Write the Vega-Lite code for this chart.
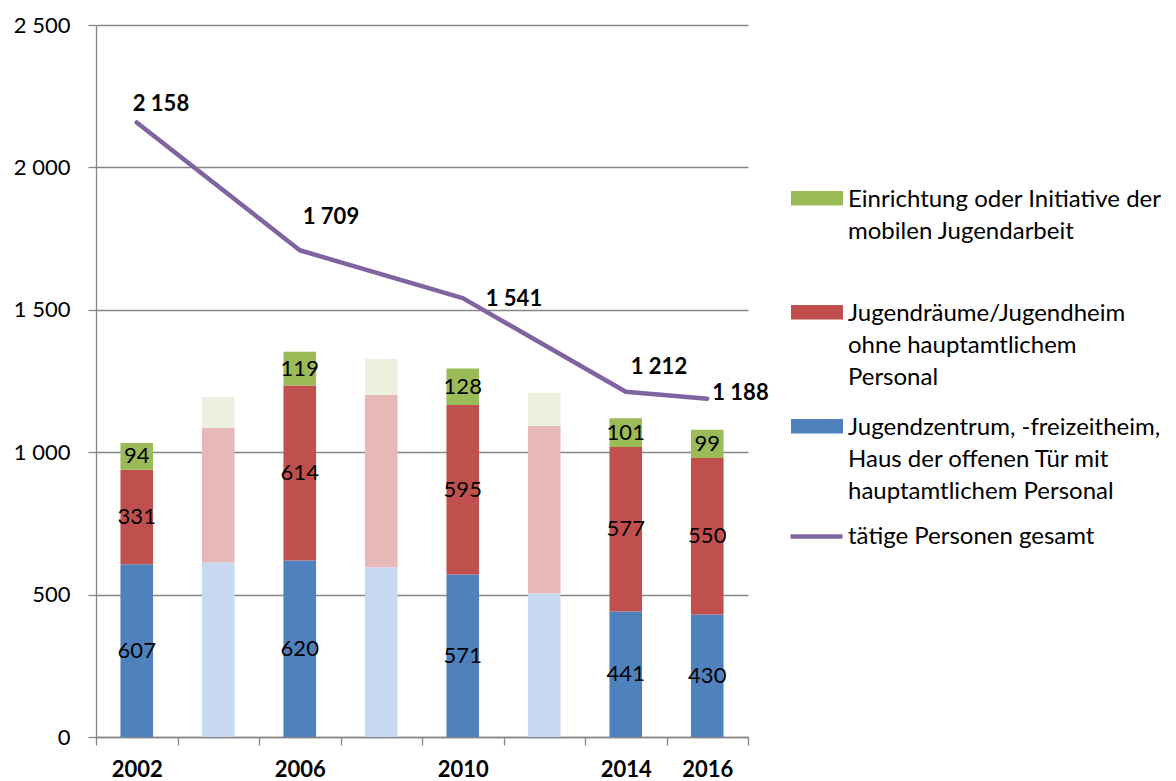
{
  "$schema": "https://vega.github.io/schema/vega-lite/v6.json",
  "width": 652,
  "height": 712,
  "autosize": {"type": "none"},
  "padding": {"left": 96, "top": 25, "right": 428, "bottom": 44},
  "config": {
    "locale": {"number": {"decimal": ",", "thousands": " ", "grouping": [3], "currency": ["", " €"]}},
    "font": "Lato",
    "view": {"stroke": null},
    "style": {"guide-label": {"lineHeight": 32}}
  },
  "datasets": {
    "balken": [
      {"jahr": 2002, "reihe": "Jugendzentrum, -freizeitheim, Haus der offenen Tür mit hauptamtlichem Personal", "wert": 607, "geschaetzt": false},
      {"jahr": 2002, "reihe": "Jugendräume/Jugendheim ohne hauptamtlichem Personal", "wert": 331, "geschaetzt": false},
      {"jahr": 2002, "reihe": "Einrichtung oder Initiative der mobilen Jugendarbeit", "wert": 94, "geschaetzt": false},
      {"jahr": 2004, "reihe": "Jugendzentrum, -freizeitheim, Haus der offenen Tür mit hauptamtlichem Personal", "wert": 614, "geschaetzt": true},
      {"jahr": 2004, "reihe": "Jugendräume/Jugendheim ohne hauptamtlichem Personal", "wert": 471, "geschaetzt": true},
      {"jahr": 2004, "reihe": "Einrichtung oder Initiative der mobilen Jugendarbeit", "wert": 109, "geschaetzt": true},
      {"jahr": 2006, "reihe": "Jugendzentrum, -freizeitheim, Haus der offenen Tür mit hauptamtlichem Personal", "wert": 620, "geschaetzt": false},
      {"jahr": 2006, "reihe": "Jugendräume/Jugendheim ohne hauptamtlichem Personal", "wert": 614, "geschaetzt": false},
      {"jahr": 2006, "reihe": "Einrichtung oder Initiative der mobilen Jugendarbeit", "wert": 119, "geschaetzt": false},
      {"jahr": 2008, "reihe": "Jugendzentrum, -freizeitheim, Haus der offenen Tür mit hauptamtlichem Personal", "wert": 596, "geschaetzt": true},
      {"jahr": 2008, "reihe": "Jugendräume/Jugendheim ohne hauptamtlichem Personal", "wert": 605, "geschaetzt": true},
      {"jahr": 2008, "reihe": "Einrichtung oder Initiative der mobilen Jugendarbeit", "wert": 126, "geschaetzt": true},
      {"jahr": 2010, "reihe": "Jugendzentrum, -freizeitheim, Haus der offenen Tür mit hauptamtlichem Personal", "wert": 571, "geschaetzt": false},
      {"jahr": 2010, "reihe": "Jugendräume/Jugendheim ohne hauptamtlichem Personal", "wert": 595, "geschaetzt": false},
      {"jahr": 2010, "reihe": "Einrichtung oder Initiative der mobilen Jugendarbeit", "wert": 128, "geschaetzt": false},
      {"jahr": 2012, "reihe": "Jugendzentrum, -freizeitheim, Haus der offenen Tür mit hauptamtlichem Personal", "wert": 505, "geschaetzt": true},
      {"jahr": 2012, "reihe": "Jugendräume/Jugendheim ohne hauptamtlichem Personal", "wert": 587, "geschaetzt": true},
      {"jahr": 2012, "reihe": "Einrichtung oder Initiative der mobilen Jugendarbeit", "wert": 117, "geschaetzt": true},
      {"jahr": 2014, "reihe": "Jugendzentrum, -freizeitheim, Haus der offenen Tür mit hauptamtlichem Personal", "wert": 441, "geschaetzt": false},
      {"jahr": 2014, "reihe": "Jugendräume/Jugendheim ohne hauptamtlichem Personal", "wert": 577, "geschaetzt": false},
      {"jahr": 2014, "reihe": "Einrichtung oder Initiative der mobilen Jugendarbeit", "wert": 101, "geschaetzt": false},
      {"jahr": 2016, "reihe": "Jugendzentrum, -freizeitheim, Haus der offenen Tür mit hauptamtlichem Personal", "wert": 430, "geschaetzt": false},
      {"jahr": 2016, "reihe": "Jugendräume/Jugendheim ohne hauptamtlichem Personal", "wert": 550, "geschaetzt": false},
      {"jahr": 2016, "reihe": "Einrichtung oder Initiative der mobilen Jugendarbeit", "wert": 99, "geschaetzt": false}
    ],
    "gesamt": [
      {"jahr": 2002, "reihe": "tätige Personen gesamt", "wert": 2158},
      {"jahr": 2006, "reihe": "tätige Personen gesamt", "wert": 1709},
      {"jahr": 2010, "reihe": "tätige Personen gesamt", "wert": 1541},
      {"jahr": 2014, "reihe": "tätige Personen gesamt", "wert": 1212},
      {"jahr": 2016, "reihe": "tätige Personen gesamt", "wert": 1188}
    ]
  },
  "layer": [
    {
      "data": {"name": "balken"},
      "transform": [{"filter": "!datum.geschaetzt"}],
      "mark": {"type": "bar", "width": {"band": 0.4}},
      "encoding": {
        "x": {
          "field": "jahr", "type": "ordinal", "title": null,
          "scale": {"paddingInner": 0, "paddingOuter": 0},
          "axis": {
            "labelAngle": 0, "labelFontSize": 22, "labelFontWeight": "bold", "labelColor": "#000000",
            "labelExpr": "(datum.value == 2004 || datum.value == 2008 || datum.value == 2012) ? '' : datum.label",
            "tickBand": "extent", "tickSize": 8, "tickColor": "#868686", "tickWidth": 1.3,
            "domainColor": "#868686", "domainWidth": 1.3, "labelPadding": 14, "grid": false
          }
        },
        "y": {
          "field": "wert", "type": "quantitative", "stack": "zero", "title": null,
          "scale": {"domain": [0, 2500], "nice": false},
          "axis": {
            "values": [0, 500, 1000, 1500, 2000, 2500], "format": ",d",
            "labelFontSize": 22, "labelColor": "#000000", "labelPadding": 18,
            "tickSize": 8, "tickColor": "#868686", "tickWidth": 1.3,
            "domainColor": "#868686", "domainWidth": 1.3,
            "grid": true, "gridColor": "#868686", "gridWidth": 1.3
          }
        },
        "color": {
          "field": "reihe", "type": "nominal",
          "scale": {
            "domain": ["Einrichtung oder Initiative der mobilen Jugendarbeit", "Jugendräume/Jugendheim ohne hauptamtlichem Personal", "Jugendzentrum, -freizeitheim, Haus der offenen Tür mit hauptamtlichem Personal"],
            "range": ["#9BBB59", "#C0504D", "#4F81BD"]
          },
          "legend": {
            "title": null, "orient": "none", "legendX": 695, "legendY": 137, "direction": "vertical",
            "padding": 0,
            "symbolType": "M-1,0.116L1,0.116L1,0.676L-1,0.676Z", "symbolSize": 2704, "symbolStrokeWidth": 0,
            "labelFontSize": 24, "labelColor": "#000000", "labelBaseline": "top", "labelOffset": 5, "labelLimit": 500,
            "gridAlign": "all", "rowPadding": -4.5,
            "labelExpr": "datum.label == 'Einrichtung oder Initiative der mobilen Jugendarbeit' ? ['Einrichtung oder Initiative der', 'mobilen Jugendarbeit'] : datum.label == 'Jugendräume/Jugendheim ohne hauptamtlichem Personal' ? ['Jugendräume/Jugendheim', 'ohne hauptamtlichem', 'Personal'] : ['Jugendzentrum, -freizeitheim,', 'Haus der offenen Tür mit', 'hauptamtlichem Personal']"
          }
        },
        "order": {"field": "reihe", "sort": "descending"}
      }
    },
    {
      "data": {"name": "balken"},
      "transform": [{"filter": "datum.geschaetzt"}],
      "mark": {"type": "bar", "width": {"band": 0.4}},
      "encoding": {
        "x": {"field": "jahr", "type": "ordinal", "title": null},
        "y": {"field": "wert", "type": "quantitative", "stack": "zero", "title": null},
        "color": {
          "field": "reihe", "type": "nominal",
          "scale": {
            "domain": ["Einrichtung oder Initiative der mobilen Jugendarbeit", "Jugendräume/Jugendheim ohne hauptamtlichem Personal", "Jugendzentrum, -freizeitheim, Haus der offenen Tür mit hauptamtlichem Personal"],
            "range": ["#EBF1DE", "#E6B9B8", "#C6D9F0"]
          },
          "legend": null
        },
        "order": {"field": "reihe", "sort": "descending"}
      }
    },
    {
      "data": {"name": "balken"},
      "transform": [{"filter": "!datum.geschaetzt"}],
      "mark": {"type": "text", "fontSize": 22, "color": "#000000", "baseline": "middle", "align": "center"},
      "encoding": {
        "x": {"field": "jahr", "type": "ordinal", "title": null},
        "y": {"field": "wert", "type": "quantitative", "stack": "zero", "bandPosition": 0.5, "title": null},
        "text": {"field": "wert", "type": "quantitative"},
        "order": {"field": "reihe", "sort": "descending"}
      }
    },
    {
      "data": {"name": "gesamt"},
      "mark": {"type": "line", "strokeWidth": 4.5, "strokeCap": "round", "strokeJoin": "round"},
      "encoding": {
        "x": {"field": "jahr", "type": "ordinal", "title": null},
        "y": {"field": "wert", "type": "quantitative", "title": null},
        "stroke": {
          "field": "reihe", "type": "nominal",
          "scale": {"range": ["#8064A2"]},
          "legend": {
            "title": null, "orient": "none", "legendX": 692, "legendY": 483, "padding": 0,
            "symbolType": "stroke", "symbolSize": 2704, "symbolStrokeWidth": 4.5,
            "labelFontSize": 24, "labelColor": "#000000", "labelOffset": 3, "labelLimit": 500
          }
        }
      }
    },
    {
      "data": {"name": "gesamt"},
      "transform": [{"filter": "datum.jahr == 2002"}],
      "mark": {"type": "text", "fontSize": 22, "fontWeight": "bold", "align": "left", "baseline": "middle", "dx": -4, "dy": -18, "color": "#000000"},
      "encoding": {
        "x": {"field": "jahr", "type": "ordinal", "title": null},
        "y": {"field": "wert", "type": "quantitative", "title": null},
        "text": {"field": "wert", "type": "quantitative", "format": ","}
      }
    },
    {
      "data": {"name": "gesamt"},
      "transform": [{"filter": "datum.jahr == 2006"}],
      "mark": {"type": "text", "fontSize": 22, "fontWeight": "bold", "align": "left", "baseline": "middle", "dx": 3, "dy": -33, "color": "#000000"},
      "encoding": {
        "x": {"field": "jahr", "type": "ordinal", "title": null},
        "y": {"field": "wert", "type": "quantitative", "title": null},
        "text": {"field": "wert", "type": "quantitative", "format": ","}
      }
    },
    {
      "data": {"name": "gesamt"},
      "transform": [{"filter": "datum.jahr == 2010"}],
      "mark": {"type": "text", "fontSize": 22, "fontWeight": "bold", "align": "left", "baseline": "middle", "dx": 23, "dy": 1, "color": "#000000"},
      "encoding": {
        "x": {"field": "jahr", "type": "ordinal", "title": null},
        "y": {"field": "wert", "type": "quantitative", "title": null},
        "text": {"field": "wert", "type": "quantitative", "format": ","}
      }
    },
    {
      "data": {"name": "gesamt"},
      "transform": [{"filter": "datum.jahr == 2014"}],
      "mark": {"type": "text", "fontSize": 22, "fontWeight": "bold", "align": "left", "baseline": "middle", "dx": 5, "dy": -25, "color": "#000000"},
      "encoding": {
        "x": {"field": "jahr", "type": "ordinal", "title": null},
        "y": {"field": "wert", "type": "quantitative", "title": null},
        "text": {"field": "wert", "type": "quantitative", "format": ","}
      }
    },
    {
      "data": {"name": "gesamt"},
      "transform": [{"filter": "datum.jahr == 2016"}],
      "mark": {"type": "text", "fontSize": 22, "fontWeight": "bold", "align": "left", "baseline": "middle", "dx": 5, "dy": -6, "color": "#000000"},
      "encoding": {
        "x": {"field": "jahr", "type": "ordinal", "title": null},
        "y": {"field": "wert", "type": "quantitative", "title": null},
        "text": {"field": "wert", "type": "quantitative", "format": ","}
      }
    }
  ],
  "resolve": {"scale": {"color": "independent"}}
}
